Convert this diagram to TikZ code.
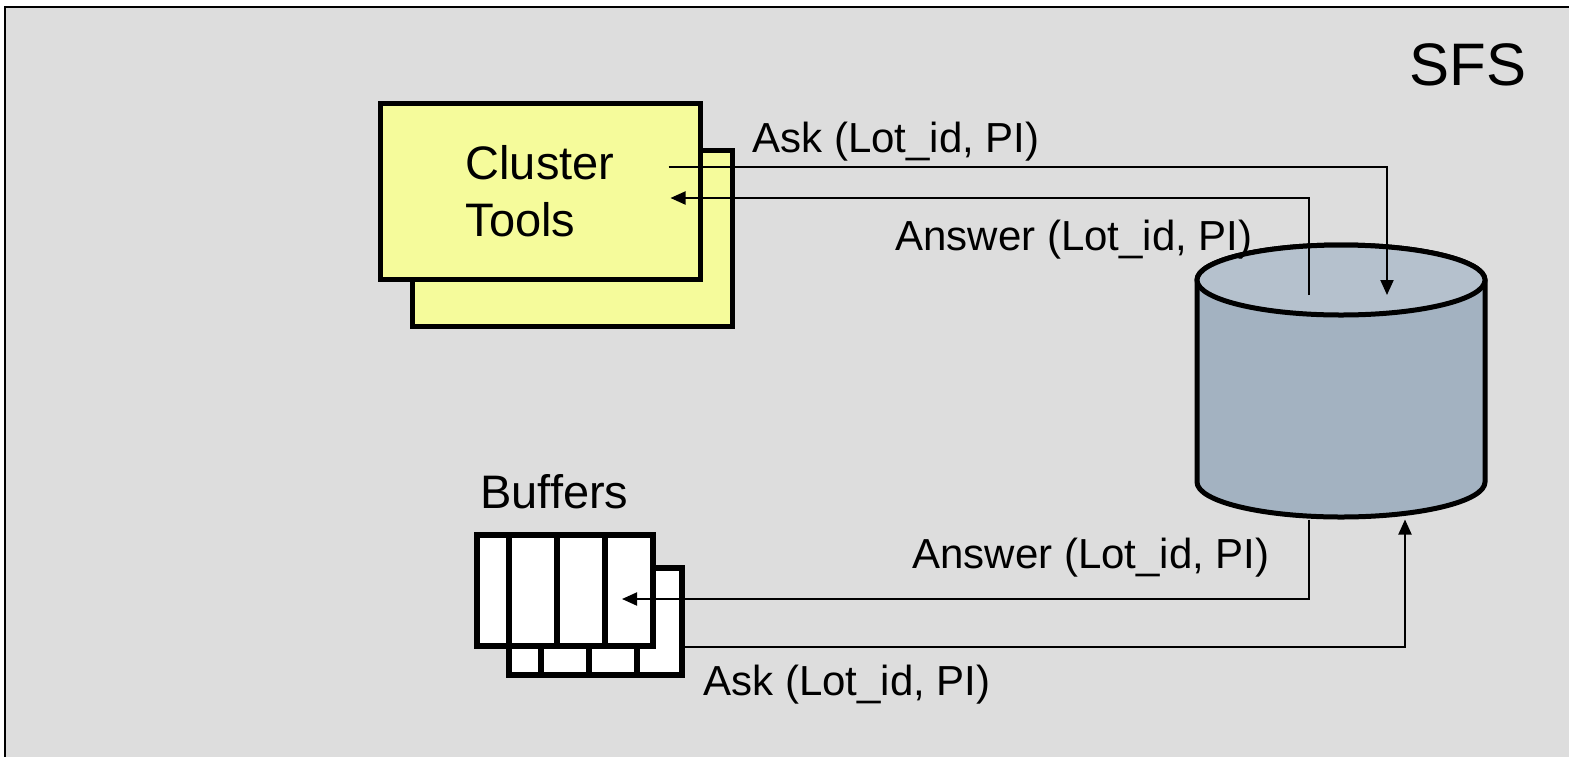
\documentclass[tikz,border=0pt]{standalone}
\usepackage{fontspec}
\setmainfont{Liberation Sans}
\usetikzlibrary{arrows.meta}
\definecolor{sfsgray}{HTML}{DDDDDD}
\definecolor{toolyellow}{HTML}{F5FB9B}
\definecolor{dbtop}{HTML}{B5C1CD}
\definecolor{dbbody}{HTML}{A3B2C1}
% buffer rack: name, centre, width, height
\newcommand\bufbox[4]{\node[rack, minimum width=#3, minimum height=#4] (#1) at (#2) {};
 \foreach \d in {16,40,64} {\draw[line width=3pt] ([xshift=\d pt]#1.north west) -- ([xshift=\d pt]#1.south west);}}

\begin{document}
\begin{tikzpicture}[x=0.5pt,y=-0.5pt,
  link/.style={line width=1pt,-{Triangle[length=7.5pt,width=6.5pt]}},
  tool/.style={draw, line width=2.5pt, fill=toolyellow, minimum width=160pt, minimum height=88pt},
  rack/.style={draw, line width=3pt, fill=white, outer sep=0pt},
  lbl/.style={anchor=base west, inner sep=0pt, font=\fontsize{21}{25}\selectfont},
  big/.style={inner sep=0pt, font=\fontsize{23.5}{28.5}\selectfont}]
\useasboundingbox (0,0) rectangle (1569,756);
\fill[white] (0,0) rectangle (1569,756);
\draw[fill=sfsgray, line width=1pt] (4.5,6.5) rectangle (1620,800);

% cluster tools (two stacked boxes)
\node[tool] (ct2) at (572,238) {};
\node[tool, big, inner sep=0pt, align=left] (ct) at (540,191) {Cluster\\Tools};

% buffers
\bufbox{bb}{595.5,621.5}{86.5pt}{53.5pt}
\bufbox{bf}{565,590.5}{88pt}{55.5pt}
\node[big, anchor=base west] (buf) at (480,508) {Buffers};

% database
\node[minimum width=144pt, minimum height=136pt, inner sep=0pt, outer sep=1.25pt] (db) at (1341,381) {};
\begin{scope}[shift={(db.center)}, line width=2.5pt]
\draw[fill=dbbody] (-144,-101) -- (-144,101) arc[start angle=180, end angle=0, x radius=144, y radius=35]
  -- (144,-101) arc[start angle=0, end angle=-180, x radius=144, y radius=35] -- cycle;
\draw[fill=dbtop] (0,-101) ellipse [x radius=144, y radius=35];
\end{scope}

\node[anchor=base west, inner sep=0pt, font=\fontsize{30}{34}\selectfont] (sfs) at (1409,85) {SFS};

% requests and answers
\draw[link] ([shift={(-34,-24)}]ct.east) -| ([shift={(46,-86)}]db.center);
\draw[link] ([shift={(-32,-86)}]db.center) |- ([shift={(-32,7)}]ct.east);
\draw[link] ([xshift=-16pt]db.south) |- ([shift={(57,8.5)}]bf.center);
\draw[link] ([yshift=-12.75pt]bb.east) -| ([xshift=32pt]db.south);

\node[lbl] (askt) at (752,152) {Ask (Lot\_id, PI)};
\node[lbl] (anst) at (895,250) {Answer (Lot\_id, PI)};
\node[lbl] (ansb) at (912,568) {Answer (Lot\_id, PI)};
\node[lbl] (askb) at (703,695) {Ask (Lot\_id, PI)};
\end{tikzpicture}
\end{document}
